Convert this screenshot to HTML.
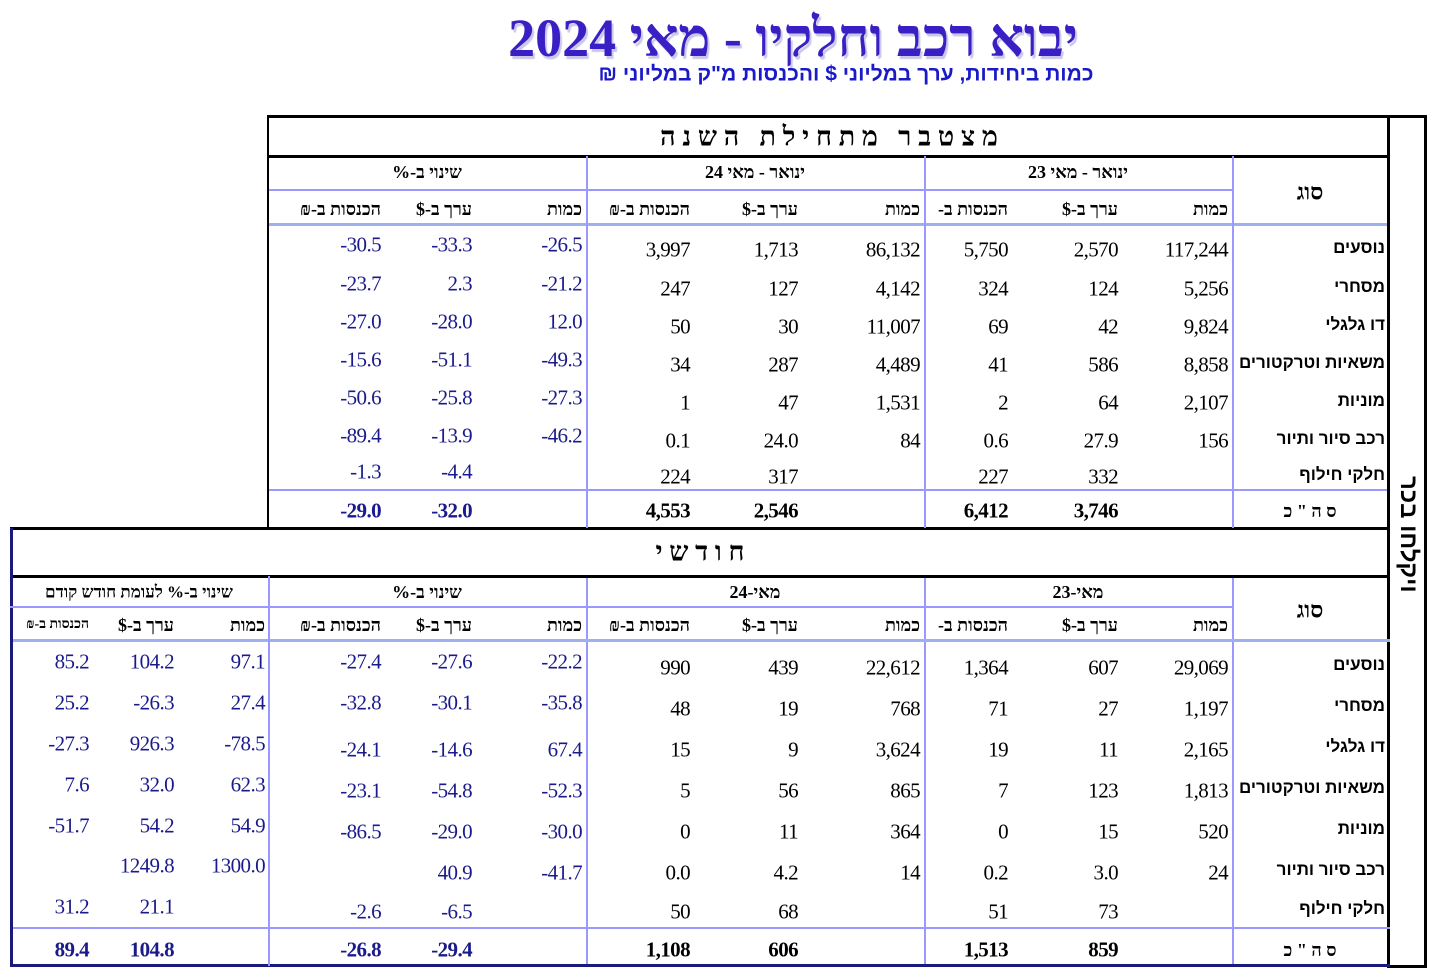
<!DOCTYPE html>
<html lang="he"><head><meta charset="utf-8">
<style>
body{margin:0;width:1444px;height:978px;background:#fff;position:relative;overflow:hidden;font-family:"Liberation Serif",serif}
.a{position:absolute;white-space:nowrap;transform:translateY(-50%);line-height:1}
.n{font-size:21px;color:#000;letter-spacing:-0.6px}
.c{font-size:21px;color:#1a1a8c;letter-spacing:-0.6px}
.tb{font-weight:bold}
.h{font-size:18px;font-weight:bold;color:#000;font-family:"Liberation Serif","DejaVu Sans",serif}
.cat{font-family:"Liberation Sans","DejaVu Sans",sans-serif;font-size:17px;font-weight:bold;color:#000}
.ln{position:absolute}
</style></head><body>
<div class="a" style="left:0;width:1586px;text-align:center;top:38px;font-size:54px;font-weight:bold;color:#3a20c4;text-shadow:2px 3px 1px #c8c8e8;direction:rtl">יבוא רכב וחלקיו - מאי 2024</div>
<div class="a" style="left:0;width:1692px;text-align:center;top:74px;font-size:21px;font-weight:bold;font-family:'Liberation Sans','DejaVu Sans',sans-serif;color:#1a1ac8;direction:rtl">כמות ביחידות, ערך במליוני $ והכנסות מ"ק במליוני ₪</div>
<div id="root"></div>
<script>
// category labels
const categories=["נוסעים","מסחרי","דו גלגלי","משאיות וטרקטורים","מוניות","רכב סיור ותיור","חלקי חילוף"];
// cumulative Jan-May values: [qty23,val23,rev23,qty24,val24,rev24,chgQty,chgVal,chgRev]
const cumRows=[
["117,244","2,570","5,750","86,132","1,713","3,997","-26.5","-33.3","-30.5"],
["5,256","124","324","4,142","127","247","-21.2","2.3","-23.7"],
["9,824","42","69","11,007","30","50","12.0","-28.0","-27.0"],
["8,858","586","41","4,489","287","34","-49.3","-51.1","-15.6"],
["2,107","64","2","1,531","47","1","-27.3","-25.8","-50.6"],
["156","27.9","0.6","84","24.0","0.1","-46.2","-13.9","-89.4"],
["","332","227","","317","224","","-4.4","-1.3"]];
const cumTotal=["","3,746","6,412","","2,546","4,553","","-32.0","-29.0"];
// monthly values (+ change vs previous month)
const monRows=[
["29,069","607","1,364","22,612","439","990","-22.2","-27.6","-27.4","97.1","104.2","85.2"],
["1,197","27","71","768","19","48","-35.8","-30.1","-32.8","27.4","-26.3","25.2"],
["2,165","11","19","3,624","9","15","67.4","-14.6","-24.1","-78.5","926.3","-27.3"],
["1,813","123","7","865","56","5","-52.3","-54.8","-23.1","62.3","32.0","7.6"],
["520","15","0","364","11","0","-30.0","-29.0","-86.5","54.9","54.2","-51.7"],
["24","3.0","0.2","14","4.2","0.0","-41.7","40.9","","1300.0","1249.8",""],
["","73","51","","68","50","","-6.5","-2.6","","21.1","31.2"]];
const monTotal=["","859","1,513","","606","1,108","","-29.4","-26.8","","104.8","89.4"];

const root=document.getElementById('root');
function L(x,y,w,h,col,name){const d=document.createElement('div');d.className='ln';d.style.cssText=`left:${x}px;top:${y}px;width:${w}px;height:${h}px;background:${col}`;


root.appendChild(d);}
function T(xr,y,txt,cls,name,extra){if(txt==='')return;const d=document.createElement('div');d.className='a '+cls;d.style.right=(1444-xr)+'px';d.style.top=y+'px';if(extra)d.style.cssText+=extra;d.textContent=txt;


root.appendChild(d);return d;}
function TC(xl,xr,y,txt,cls,name){const d=document.createElement('div');d.className='a '+cls;d.style.left=xl+'px';d.style.width=(xr-xl)+'px';d.style.textAlign='center';d.style.top=y+'px';d.style.direction='rtl';d.textContent=txt;


root.appendChild(d);}
const B='#000',LB='#9999ff',NV='#1a1a7a';
L(268,115,1158,3,B,'top-border');
L(268,155,1122,3,B,'cum-title-line');
L(268,189,964,2,LB,'cum-period-line');
L(268,223,1122,3,'#9fb0ee','cum-header-line');
L(268,489,1122,2,LB,'cum-total-line');
L(10,527,1380,3,B,'section-divider');
L(267,115,2,414,B,'cum-left-border');
[586,924,1232].forEach((x,i)=>{L(x,156,2,372,LB,'cum-col-divider');L(x,576,2,390,LB,'mon-col-divider');});
L(1387,115,3,853,B,'frame-right-inner');
L(1424,115,3,853,B,'frame-right-outer');
L(10,575,1380,3,B,'mon-title-line');
L(10,606,1222,2,LB,'mon-period-line');
L(10,639,1380,3,'#9fb0ee','mon-header-line');
L(10,927,1380,2,LB,'mon-total-line');
L(10,964,1380,3,NV,'bottom-border');
L(1390,965,37,3,B,'frame-bottom');
L(10,528,3,438,NV,'mon-left-border');
L(268,576,2,390,LB,'mon-col-divider');
const v=document.createElement('div');v.textContent='רכב וחלקיו';
v.style.cssText='position:absolute;left:1393px;top:476px;width:30px;height:160px;writing-mode:vertical-rl;direction:ltr;unicode-bidi:bidi-override;font-family:"Liberation Sans","DejaVu Sans",sans-serif;font-weight:bold;font-size:24px;line-height:30px';


root.appendChild(v);
TC(268,1390,137,'מ צ ט ב ר   מ ת ח י ל ת   ה ש נ ה','h','cum-section-title');
root.lastChild.style.fontSize='27px';root.lastChild.style.whiteSpace='pre';
TC(10,1390,552,'ח ו ד ש י','h','mon-section-title');
root.lastChild.style.fontSize='27px';
TC(924,1232,172,'ינואר - מאי 23','h','period-header');
TC(586,924,172,'ינואר - מאי 24','h','period-header');
TC(268,586,172,'שינוי ב-%','h','period-header');
TC(924,1232,592,'מאי-23','h','period-header');
TC(586,924,592,'מאי-24','h','period-header');
TC(268,586,592,'שינוי ב-%','h','period-header');
TC(10,268,592,'שינוי ב-% לעומת חודש קודם','h','period-header');
root.lastChild.style.fontSize='17px';
TC(1232,1388,192,'סוג','h','type-header');root.lastChild.style.fontSize='23px';
TC(1232,1388,610,'סוג','h','type-header');root.lastChild.style.fontSize='23px';
const colR=[1228,1118,1008,920,798,690,582,472,381,265,174,89];
const hdr=['כמות','ערך ב-$','הכנסות ב-₪'];
function heads(y,n){for(let i=0;i<n;i++){let t=hdr[i%3];if(i===2)t='הכנסות ב-';const d=T(colR[i],y,t,'h','column-header','direction:rtl');if(i===11){d.style.fontSize='14px';}}}
heads(209,9);heads(625,12);
const clip=document.createElement('div');clip.style.cssText='position:absolute;left:0;top:600px;width:13px;height:40px;background:#fff';


root.appendChild(clip);L(10,528,3,438,NV,'mon-left-border');L(10,606,3,2,LB,'x');
function catLabel(y,txt,name){const w=document.createElement('div');w.style.cssText=`position:absolute;left:1234px;width:151px;top:${y-12}px;height:24px;overflow:hidden;direction:rtl`;


const s=document.createElement('div');s.className='cat';s.style.cssText='white-space:nowrap;line-height:24px;text-align:right';s.textContent=txt;w.appendChild(s);root.appendChild(w);}
const cumY=[248,287,325,363,401,439,475];
const monY=[668,709,750,791,832,873,912];
const monCY=[662,703,750,791,832,873,912];
const monLY=[662,703,744,785,826,866,907];
categories.forEach((c,r)=>{
 catLabel(cumY[r],c,'category-label');
 catLabel(monY[r]-3,c,'category-label');
 cumRows[r].forEach((v,i)=>T(colR[i],cumY[r]+(i>=6?-3:2),v,i>=6?'n c':'n','cum-cell'));
 monRows[r].forEach((v,i)=>T(colR[i],i>=9?monLY[r]:(i>=6?monCY[r]:monY[r]),v,i>=6?'n c':'n','mon-cell'));
});
TC(1232,1388,511,'ס ה " כ','h','total-label');
TC(1232,1388,950,'ס ה " כ','h','total-label');
cumTotal.forEach((v,i)=>T(colR[i],511,v,(i>=6?'n c':'n')+' tb','cum-total-cell'));
monTotal.forEach((v,i)=>T(colR[i],950,v,(i>=6?'n c':'n')+' tb','mon-total-cell'));
</script>
</body></html>
